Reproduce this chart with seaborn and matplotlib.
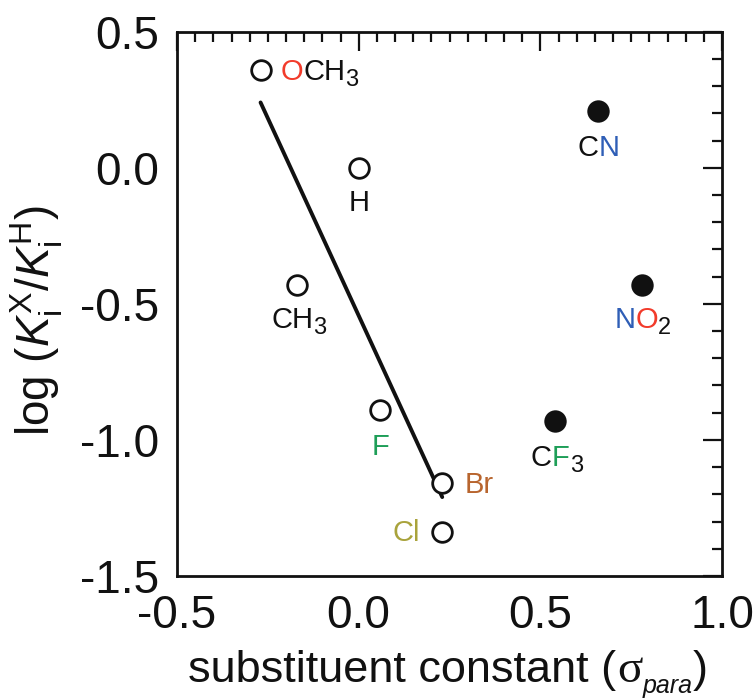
import numpy as np
import pandas as pd
import matplotlib
matplotlib.use("Agg")
import matplotlib.pyplot as plt
import seaborn as sns
from matplotlib.transforms import offset_copy
from matplotlib.ticker import MultipleLocator

# ---------------- data ----------------
substituents = ["OCH3", "CH3", "H", "F", "Cl", "Br", "CF3", "CN", "NO2"]
sigma_para = [-0.27, -0.17, 0.00, 0.06, 0.23, 0.23, 0.54, 0.66, 0.78]
log_ratio = [0.36, -0.43, 0.00, -0.89, -1.34, -1.16, -0.93, 0.21, -0.43]
marker_fill = ["open", "open", "open", "open", "open", "open", "filled", "filled", "filled"]

fit_sigma = [-0.27, 0.23]
fit_log = [0.24, -1.21]

x_ticks = [-0.5, 0.0, 0.5, 1.0]
x_tick_labels = ["-0.5", "0.0", "0.5", "1.0"]
y_ticks = [-1.5, -1.0, -0.5, 0.0, 0.5]
y_tick_labels = ["-1.5", "-1.0", "-0.5", "0.0", "0.5"]

# label pieces: (text, colour key, subscript?)
label_pieces = {
    "OCH3": [("O", "red", False), ("CH", "black", False), ("3", "black", True)],
    "CH3": [("CH", "black", False), ("3", "black", True)],
    "H": [("H", "black", False)],
    "F": [("F", "green", False)],
    "Cl": [("Cl", "olive", False)],
    "Br": [("Br", "brown", False)],
    "CF3": [("C", "black", False), ("F", "green", False), ("3", "black", True)],
    "CN": [("C", "black", False), ("N", "blue", False)],
    "NO2": [("N", "blue", False), ("O", "red", False), ("2", "black", True)],
}

# x-axis title pieces: (text, font family, style, size, drop px, extra gap px)
xlabel_pieces = [
    ("substituent constant (", "Liberation Sans", "normal", 32.5, 0, 0),
    ("\u03c3", "Liberation Serif", "normal", 34, 0, 1),
    ("para", "Liberation Sans", "italic", 18, 11, 0),
    (")", "Liberation Sans", "normal", 32.5, 0, 0),
]

# ---------------- style ----------------
colors = {"black": "#111111", "red": "#f23b2b", "blue": "#2f5eb6",
          "green": "#1e9e58", "olive": "#a9a33c", "brown": "#b8652e"}
# label placement: (dx px, dy px downward to baseline, alignment)
label_place = {
    "OCH3": (20, 10, "left"),
    "CH3": (2, 43, "center"),
    "H": (0, 43, "center"),
    "F": (0, 45, "center"),
    "Cl": (-22, 9, "right"),
    "Br": (22, 10, "left"),
    "CF3": (2, 45, "center"),
    "CN": (0, 45, "center"),
    "NO2": (1, 43, "center"),
}

sns.set_theme(style="white")
plt.rcParams["font.family"] = ["Liberation Sans", "DejaVu Sans"]
plt.rcParams["mathtext.fontset"] = "custom"
plt.rcParams["mathtext.rm"] = "Liberation Sans"
plt.rcParams["mathtext.it"] = "Liberation Sans:italic"
plt.rcParams["mathtext.bf"] = "Liberation Sans:bold"
plt.rcParams["axes.unicode_minus"] = False
for key in ["text.color", "axes.labelcolor", "xtick.color", "ytick.color", "axes.edgecolor"]:
    plt.rcParams[key] = "#111111"

W, H = 756, 700
DPI = 100
fig = plt.figure(figsize=(W / DPI, H / DPI), dpi=DPI)
fig.patch.set_facecolor("white")
ax = fig.add_axes([177 / W, (H - 576) / H, (722 - 177) / W, (576 - 31.7) / H])

df = pd.DataFrame({"substituent": substituents, "sigma": sigma_para,
                   "logK": log_ratio, "fill": marker_fill})
fit_df = pd.DataFrame({"sigma": fit_sigma, "logK": fit_log})

sns.lineplot(data=fit_df, x="sigma", y="logK", color="#111111", linewidth=2.8,
             ax=ax, zorder=2, sort=False)
sns.scatterplot(data=df[df["fill"] == "open"], x="sigma", y="logK", s=200,
                facecolor="white", edgecolor="#111111", linewidth=2.0, ax=ax, zorder=3)
sns.scatterplot(data=df[df["fill"] == "filled"], x="sigma", y="logK", s=260,
                color="#111111", edgecolor="#111111", linewidth=0, ax=ax, zorder=3)

ax.set_xlim(-0.5, 1.0)
ax.set_ylim(-1.5, 0.5)
ax.set_xticks(x_ticks)
ax.set_xticklabels(x_tick_labels)
ax.set_yticks(y_ticks)
ax.set_yticklabels(y_tick_labels)
ax.xaxis.set_minor_locator(MultipleLocator(0.05))
ax.yaxis.set_minor_locator(MultipleLocator(0.1))
ax.tick_params(which="both", direction="in", top=True, right=True,
               width=1.6, color="#111111")
ax.tick_params(which="major", length=14, labelsize=33, pad=13)
ax.tick_params(which="minor", length=7.5)
for sp in ax.spines.values():
    sp.set_linewidth(2.0)
    sp.set_color("#111111")
ax.set_xlabel("")
ax.set_ylabel("")

fig.text(37 / W, (H - 321) / H,
         r"log $(K_\mathrm{i}^\mathrm{X}/K_\mathrm{i}^\mathrm{H})$",
         fontsize=33, rotation=90, ha="center", va="center")

fig.canvas.draw()
renderer = fig.canvas.get_renderer()


def ink_width(s, size, family="Liberation Sans", style="normal"):
    t = fig.text(0, 0, s, fontsize=size, family=family, style=style)
    w = t.get_window_extent(renderer).width
    t.remove()
    return w


def advance(s, size, family="Liberation Sans", style="normal"):
    return (ink_width(s + "|", size, family, style)
            - ink_width("|", size, family, style))


# ---------------- x-axis title ----------------
cur = 0.0
for txt, fam, sty, size, drop, gap in xlabel_pieces:
    cur += gap
    tr = offset_copy(fig.transFigure, fig=fig, x=cur, y=-drop, units="dots")
    fig.text(188 / W, (H - 682) / H, txt, fontsize=size, family=fam, style=sty,
             ha="left", va="baseline", transform=tr)
    cur += advance(txt, size, fam, sty)

# ---------------- point labels ----------------
FS = 21
FS_SUB = 17
SUB_DROP = 6

for name, sx, sy in zip(substituents, sigma_para, log_ratio):
    pieces = label_pieces[name]
    dx, dy, align = label_place[name]
    offsets = []
    cur = 0.0
    for txt, ck, sub in pieces:
        offsets.append(cur)
        cur += advance(txt, FS_SUB if sub else FS)
    total = cur
    if align == "center":
        start = -total / 2
    elif align == "right":
        start = -total
    else:
        start = 0.0
    for (txt, ck, sub), off in zip(pieces, offsets):
        tr = offset_copy(ax.transData, fig=fig, x=dx + start + off,
                         y=-dy - (SUB_DROP if sub else 0), units="dots")
        ax.text(sx, sy, txt, fontsize=FS_SUB if sub else FS, color=colors[ck],
                ha="left", va="baseline", transform=tr, zorder=4)

fig.savefig("out.png", dpi=DPI, facecolor="white")
